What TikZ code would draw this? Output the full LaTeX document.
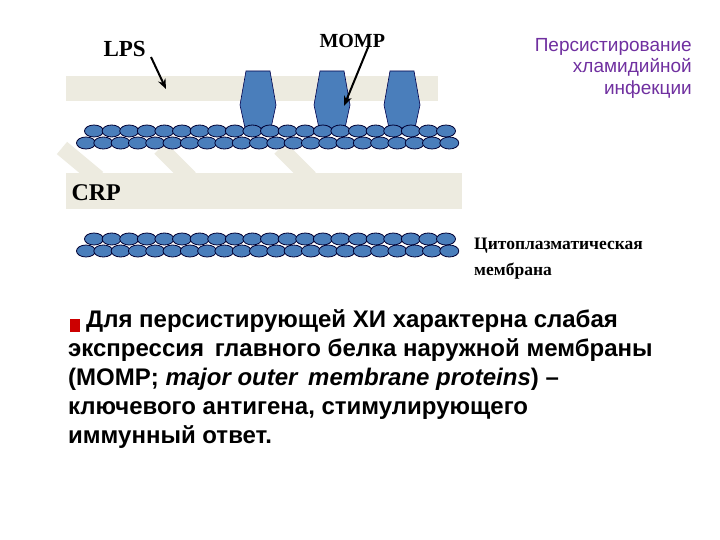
\documentclass[tikz,border=0pt]{standalone}
\usepackage{fontspec}
\usetikzlibrary{arrows.meta}
\setmainfont{Liberation Serif}
\newfontfamily\sans{Liberation Sans}
\definecolor{beige}{HTML}{EDEBE0}
\definecolor{cell}{HTML}{4A7EBB}
\definecolor{purp}{HTML}{7030A0}
\begin{document}
\begin{tikzpicture}[x=1pt,y=-1pt,
  ell/.style={fill=cell,draw=black!80!blue,line width=0.8pt},
  hexa/.style={fill=cell,draw=black!70!blue,line width=0.6pt},
  arr/.style={-{Stealth[length=10pt,width=8pt]},line width=2pt}]
\useasboundingbox (0,0) rectangle (720,540);
\fill[white] (0,0) rectangle (720,540);
% bands
\fill[beige] (66,76) rectangle (438,101);
\fill[beige] (66,173) rectangle (462,209);
\foreach \a/\b in {62/98,160/190,280/310}{
  \draw[beige,line width=16pt] (\a,148) -- (\b,178);}
% hexagons
\foreach \c in {258,332,402}{
  \draw[hexa] (\c-12,71) -- (\c+12,71) -- (\c+18,105) -- (\c+13,128) -- (\c-13,128) -- (\c-18,105) -- cycle;}
% membranes
\foreach \y in {131,239}{
  \foreach \i in {0,...,20}{\draw[ell] (94+\i*17.6,\y) ellipse (9.5 and 6);}
  \foreach \i in {0,...,21}{\draw[ell] (86+\i*17.3,\y+12) ellipse (9.5 and 6);}}
% labels
\node[font=\bfseries\fontsize{23}{23}\selectfont,anchor=west] (lps) at (100,49) {LPS};
\coordinate (lpsend) at (166,89);
\draw[arr] (151,57) -- (lpsend);
\node[font=\bfseries\fontsize{20}{20}\selectfont,anchor=west] (momp) at (316,41) {MOMP};
\coordinate (mompend) at (344,106);
\draw[arr] (369,45) -- (mompend);
\node[font=\bfseries\fontsize{24}{24}\selectfont,anchor=west] (crp) at (68,193) {CRP};
\node[font=\sans\fontsize{19}{21.5}\selectfont,text=purp,align=right,anchor=north east,inner sep=0] (title) at (692,38) {Персистирование\\хламидийной\\инфекции};
\node[font=\bfseries\fontsize{17.5}{26}\selectfont,align=left,anchor=north west,inner sep=0] (cyto) at (474,238) {Цитоплазматическая\\мембрана};
\fill[red!80!black] (70,319) rectangle (80,332);
\node[font=\sans\bfseries\fontsize{24}{29}\selectfont,align=left,anchor=north west,inner sep=0] (txt) at (68,309) {\hspace{18pt}Для персистирующей ХИ характерна слабая\\экспрессия\, главного белка наружной мембраны\\(MOMP; \textit{major outer\, membrane proteins}) –\\ключевого антигена, стимулирующего\\иммунный ответ.};
\end{tikzpicture}
\end{document}
